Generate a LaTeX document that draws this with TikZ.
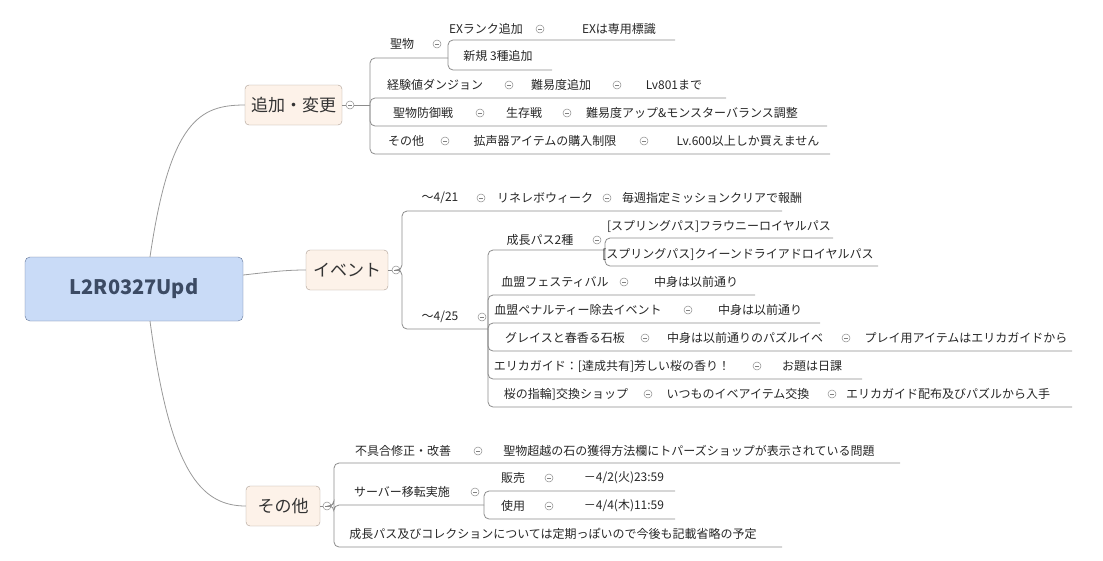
\documentclass[tikz,border=0pt]{standalone}
\usepackage{fontspec}
\setmainfont{Noto Sans CJK JP}
\definecolor{rootfill}{RGB}{201,219,247}
\definecolor{rootdraw}{RGB}{95,115,150}
\definecolor{roottext}{RGB}{60,75,100}
\definecolor{mfill}{RGB}{253,242,233}
\definecolor{mdraw}{RGB}{170,155,145}
\begin{document}
\begin{tikzpicture}[x=1pt,y=-1pt,
  t/.style={font=\fontsize{12}{14}\selectfont, text=black!85, inner sep=0pt},
  ln/.style={draw=black!45, line width=0.8pt},
  br/.style={ln, rounded corners=5pt},
  ic/.style={circle, draw=black!45, minimum size=8pt, inner sep=0pt, line width=0.5pt,
    path picture={\draw[black!50,line width=0.6pt] ([xshift=-2pt]path picture bounding box.center) -- ([xshift=2pt]path picture bounding box.center);}},
  mb/.style={draw=mdraw, fill=mfill, rounded corners=4pt, font=\fontsize{17}{20}\selectfont, text=black!80, inner sep=0pt}]
\useasboundingbox (0,0) rectangle (1103,560);
% root
\node[draw=rootdraw, fill=rootfill, rounded corners=5pt, minimum width=218pt, minimum height=64pt,
  font=\fontsize{20}{24}\selectfont\bfseries, text=roottext] (root) at (134,289) {L2R0327Upd};
\node[mb, minimum width=97pt, minimum height=40pt] (g1) at (293.5,105) {追加・変更};
\node[mb, minimum width=82pt, minimum height=40pt] (g2) at (347,270) {イベント};
\node[mb, minimum width=74pt, minimum height=40pt] (g3) at (283,506) {その他};
\draw[ln, black!40] (150,257) .. controls (170,120) and (200,105) .. (g1.west);
\draw[ln, black!40] (root.east) ++(0,-14) .. controls (270,272) and (285,270) .. (g2.west);
\draw[ln, black!40] (150,321) .. controls (170,470) and (200,506) .. (g3.west);
% ===== group 1
\node[ic] (i1) at (350,105) {};
\draw[ln] (g1.east) -- (i1);
\draw[br] (i1.east) -- (370,105);
\foreach \y/\e in {58/448, 98/726, 126/827, 154/830} \draw[br] (370,105) |- (\e,\y);
\node[t] (a1) at (402,44) {聖物}; \node[ic] (a1i) at (437,44) {};
\foreach \y/\e in {40/675, 70/552} \draw[br] (448,58) |- (\e,\y);
\node[t] (a11) at (486,29) {EXランク追加}; \node[ic] (a11i) at (540,29) {}; \node[t] (a111) at (619,29) {EXは専用標識};
\node[t] (a12) at (498,56) {新規 3種追加};
\node[t] (a2) at (435,85) {経験値ダンジョン}; \node[ic] at (509,85) {}; \node[t] at (561,85) {難易度追加}; \node[ic] at (617,85) {}; \node[t] at (674,85) {Lv801まで};
\node[t] (a3) at (423,113) {聖物防御戦}; \node[ic] at (480,113) {}; \node[t] at (524,113) {生存戦}; \node[ic] at (567,113) {}; \node[t] at (692,113) {難易度アップ\&モンスターバランス調整};
\node[t] (a4) at (406,141) {その他}; \node[ic] at (445,141) {}; \node[t] at (545,141) {拡声器アイテムの購入制限}; \node[ic] at (644,141) {}; \node[t] at (748,141) {Lv.600以上しか買えません};
% ===== group 2
\node[ic] (i2) at (396,270) {};
\draw[ln] (g2.east) -- (i2);
\foreach \y/\e in {211/782, 329/488} \draw[br] (i2.east) -- (402,270) |- (\e,\y);
\node[t] (b1) at (440,198) {～4/21}; \node[ic] at (481,198) {}; \node[t] at (545,198) {リネレボウィーク}; \node[ic] at (607,198) {}; \node[t] at (712,198) {毎週指定ミッションクリアで報酬};
\node[t] (b2) at (440,317) {～4/25}; \node[ic] at (482,317) {};
\foreach \y/\e in {250/605, 295/755, 323/820, 351/1072, 379/862, 407/1072} \draw[br] (488,329) |- (\e,\y);
\node[t] (b21) at (540,240) {成長パス2種}; \node[ic] at (597,240) {};
\foreach \y/\e in {238/833, 266/878} \draw[br] (605,250) |- (\e,\y);
\node[t] at (719,226) {[スプリングパス]フラウニーロイヤルパス};
\node[t] at (738,254) {[スプリングパス]クイーンドライアドロイヤルパス};
\node[t] at (555,282) {血盟フェスティバル}; \node[ic] at (624,282) {}; \node[t] at (696,282) {中身は以前通り};
\node[t] at (578,310) {血盟ペナルティー除去イベント}; \node[ic] at (688,310) {}; \node[t] at (760,310) {中身は以前通り};
\node[t] at (565,338) {グレイスと春香る石板}; \node[ic] at (645,338) {}; \node[t] at (745,338) {中身は以前通りのパズルイベ}; \node[ic] at (846,338) {}; \node[t] at (966,338) {プレイ用アイテムはエリカガイドから};
\node[t] at (612,366) {エリカガイド：[達成共有]芳しい桜の香り！}; \node[ic] at (757,366) {}; \node[t] at (812,366) {お題は日課};
\node[t] at (566,394) {桜の指輪]交換ショップ}; \node[ic] at (648,394) {}; \node[t] at (738,394) {いつものイベアイテム交換}; \node[ic] at (832,394) {}; \node[t] at (948,394) {エリカガイド配布及びパズルから入手};
% ===== group 3
\node[ic] (i3) at (327,506) {};
\draw[ln] (g3.east) -- (i3);
\foreach \y/\e in {463/900, 505/484, 547/782} \draw[br] (i3.east) -- (334,506) |- (\e,\y);
\node[t] at (403,451) {不具合修正・改善}; \node[ic] at (478,451) {}; \node[t] at (689,451) {聖物超越の石の獲得方法欄にトパーズショップが表示されている問題};
\node[t] at (402,492) {サーバー移転実施}; \node[ic] at (475,492) {};
\foreach \y/\e in {491/675, 519/675} \draw[br] (484,505) |- (\e,\y);
\node[t] at (513,478) {販売}; \node[ic] at (549,478) {}; \node[t] at (624,478) {－4/2(火)23:59};
\node[t] at (513,506) {使用}; \node[ic] at (549,506) {}; \node[t] at (624,506) {－4/4(木)11:59};
\node[t] at (553,534) {成長パス及びコレクションについては定期っぽいので今後も記載省略の予定};
\end{tikzpicture}
\end{document}
